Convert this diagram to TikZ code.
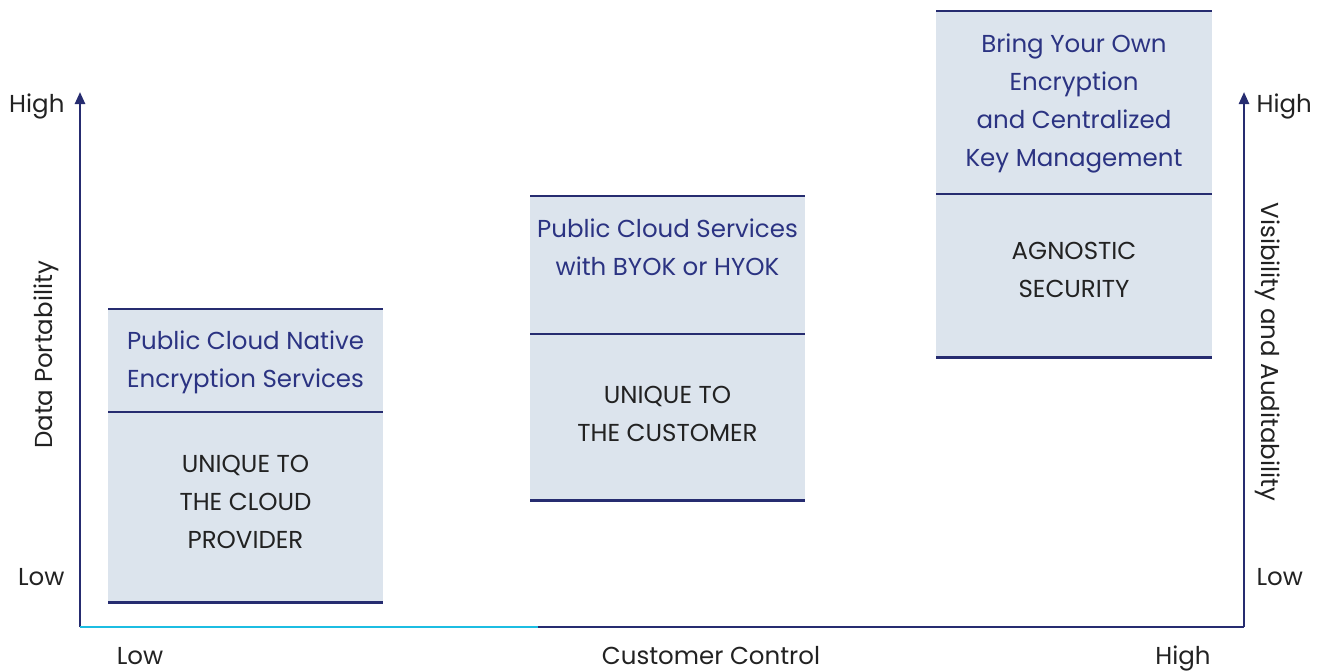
\documentclass[tikz,border=0pt]{standalone}
\usepackage{fontspec}
\setmainfont{Poppins}
\usetikzlibrary{arrows.meta}
\definecolor{navy}{HTML}{262C70}
\definecolor{navytext}{HTML}{2B3382}
\definecolor{boxfill}{HTML}{DCE4ED}
\definecolor{cyanline}{HTML}{1CBDE2}
\definecolor{ink}{HTML}{222222}
\tikzset{
  panel/.style={fill=boxfill, draw=none, anchor=north west, inner sep=0pt},
  rule/.style={draw=navy, line width=2.6pt},
  axis/.style={draw=navy, line width=2.4pt},
  axisarrow/.style={axis, -{Triangle[width=10pt,length=12pt]}},
  head/.style={text=navytext, font=\fontsize{24.5}{38}\selectfont, align=center},
  body/.style={text=ink, font=\fontsize{24.5}{38}\selectfont, align=center},
  lbl/.style={text=ink, font=\fontsize{24.5}{28}\selectfont},
  xlbl/.style={lbl, anchor=base, inner sep=0pt},
}
\begin{document}
\begin{tikzpicture}[x=1pt,y=-1pt]
\useasboundingbox (0,0) rectangle (1328,670);
% panels
\node[panel, minimum width=275pt, minimum height=293pt] (p1) at (108,309) {};
\node[panel, minimum width=275pt, minimum height=304pt] (p2) at (530,196) {};
\node[panel, minimum width=276pt, minimum height=346pt] (p3) at (936,11) {};
% horizontal rules of the panels
\draw[rule] (p1.north west) -- (p1.north east);
\draw[rule] (p1.south west) -- (p1.south east);
\draw[rule] (108,412) -- (383,412);
\draw[rule] (p2.north west) -- (p2.north east);
\draw[rule] (p2.south west) -- (p2.south east);
\draw[rule] (530,334) -- (805,334);
\draw[rule] (p3.north west) -- (p3.north east);
\draw[rule] (p3.south west) -- (p3.south east);
\draw[rule] (936,194) -- (1212,194);
% panel texts
\node[head] (h1) at (245.5,362) {Public Cloud Native\\Encryption Services};
\node[body] (t1) at (245.5,502) {UNIQUE TO\\THE CLOUD\\PROVIDER};
\node[head] (h2) at (667.5,247) {Public Cloud Services\\with BYOK or HYOK};
\node[body] (t2) at (667.5,414) {UNIQUE TO\\THE CUSTOMER};
\node[head] (h3) at (1074,103) {Bring Your Own\\Encryption\\and Centralized\\Key Management};
\node[body] (t3) at (1074,270) {AGNOSTIC\\SECURITY};
% axes
\coordinate (o) at (80,627);
\coordinate (ltop) at (80,92);
\coordinate (r) at (1244,627);
\coordinate (rtop) at (1244,92);
\coordinate (cy) at (538,627);
\draw[axisarrow] (o) -- (ltop);
\draw[axisarrow] (r) -- (rtop);
\draw[axis] (cy) -- (r);
\draw[axis, draw=cyanline] (o) -- (cy);
% axis labels
\node[lbl, anchor=east] (lh) at (68,106) {High};
\node[lbl, anchor=east] (ll) at (68,577) {Low};
\node[lbl, rotate=90] (ly) at (46,355) {Data Portability};
\node[lbl, anchor=west] (rh) at (1253,106) {High};
\node[lbl, anchor=west] (rl) at (1253,577) {Low};
\node[lbl, rotate=-90] (ry) at (1268,352) {Visibility and Auditability};
\node[xlbl] (xl) at (140,664) {Low};
\node[xlbl] (xc) at (711,664) {Customer Control};
\node[xlbl] (xh) at (1183,664) {High};
\end{tikzpicture}
\end{document}
